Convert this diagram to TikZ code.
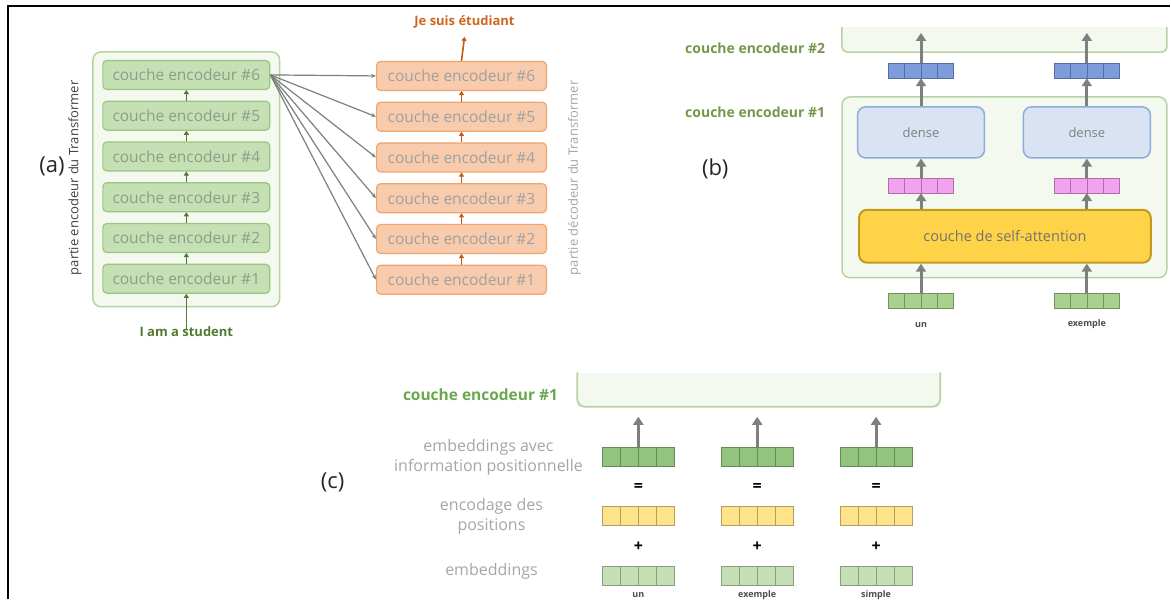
\documentclass[tikz,border=0pt]{standalone}
\usepackage{fontspec}
\setmainfont{Open Sans}
\usepackage{tikz}
\usetikzlibrary{calc,arrows.meta,positioning}
\definecolor{encfill}{HTML}{C5E0B4}
\definecolor{encdraw}{HTML}{9CC47E}
\definecolor{enctext}{HTML}{8E9E86}
\definecolor{outfill}{HTML}{F3F9EF}
\definecolor{outdraw}{HTML}{B7D3A3}
\definecolor{decfill}{HTML}{F8CBAD}
\definecolor{decdraw}{HTML}{F1A46C}
\definecolor{dectext}{HTML}{A0A0A0}
\definecolor{dgreen}{HTML}{507A2E}
\definecolor{dorange}{HTML}{C55A11}
\definecolor{outorange}{HTML}{CC671D}
\definecolor{arrowgray}{HTML}{7F7F7F}
\definecolor{lgray}{HTML}{A6A6A6}
\definecolor{bluevec}{HTML}{7C9CDC}
\definecolor{densefill}{HTML}{DAE3F3}
\definecolor{densedraw}{HTML}{8FAADC}
\definecolor{pinkvec}{HTML}{F2A2EE}
\definecolor{gold}{HTML}{FFD347}
\definecolor{golddraw}{HTML}{C39A1E}
\definecolor{greenvec}{HTML}{A9D18E}
\definecolor{topgreen}{HTML}{93C47D}
\definecolor{yellowvec}{HTML}{FFE38A}
\definecolor{labgreen}{HTML}{76974A}
\definecolor{cgreen}{HTML}{6AA84F}

\begin{document}
\begin{tikzpicture}[x=1pt,y=-1pt,>=Latex,
      box/.style={rounded corners=4pt,line width=1.2pt,minimum width=167pt,
                  minimum height=29pt,inner sep=0pt,font=\fontsize{15.5}{17}\selectfont},
      encbox/.style={box,fill=encfill,draw=encdraw,text=enctext},
      decbox/.style={box,fill=decfill,draw=decdraw,text=dectext,minimum width=170pt},
      frame/.style={rounded corners=8pt,line width=1.5pt,fill=outfill,draw=outdraw,inner sep=0pt},
      vec/.style={fill=#1,draw=#1!70!black,line width=0.6pt,inner sep=0pt,
                  minimum width=65pt,minimum height=15pt,
                  path picture={\foreach \k in {1,2,3}
                    \draw[#1!70!black,line width=0.6pt]
                      ($(path picture bounding box.south west)!\k/4!(path picture bounding box.south east)$)
                   -- ($(path picture bounding box.north west)!\k/4!(path picture bounding box.north east)$);}},
      bigvec/.style={vec=#1,minimum width=72pt,minimum height=19pt},
      flow/.style={draw=arrowgray,line width=3pt,-{Triangle[width=10pt,length=8pt]}},
      stackarrow/.style={line width=1.3pt,-{Triangle[width=5pt,length=4pt]}},
      tag/.style={font=\fontsize{22}{26}\selectfont,text=black!85},
      side/.style={rotate=90,font=\fontsize{13}{15}\selectfont},
      note/.style={font=\fontsize{16}{20}\selectfont,text=lgray,align=center},
      word/.style={font=\fontsize{9}{11}\selectfont\bfseries,text=black!70}]
    \fill[white] (0,0) rectangle (1171,600);
    \draw[line width=2.5pt] (8,600) -- (8,6) -- (1171,6);

    % (a)
    \node[tag] (taga) at (52,167) {(a)};
    \node[frame,minimum width=187pt,minimum height=255pt] (encstack) at (186.5,179.5) {};
    \node[side,text=black!75] (enclab) at (75,178) {partie encodeur du Transformer};
    \node[side,text=lgray] (declab) at (575,178) {partie décodeur du Transformer};
    \foreach \i in {1,...,6}{
      \node[encbox] (enc\i) at (186.5,{279-(\i-1)*40.8}) {couche encodeur \#\i};
      \node[decbox] (dec\i) at (462,{280-(\i-1)*40.8}) {couche encodeur \#\i};
    }
    \foreach \i/\j in {1/2,2/3,3/4,4/5,5/6}{
      \draw[stackarrow,dgreen] (enc\i.north) -- (enc\j.south);
      \draw[stackarrow,dorange] (dec\i.north) -- (dec\j.south);
    }
    \foreach \i in {1,...,6}
      \draw[draw=arrowgray,line width=1.2pt,-{Stealth[length=5pt,width=4pt]}] (enc6.east) -- (dec\i.west);
    \node[font=\fontsize{13}{15}\selectfont\bfseries,text=dgreen] (inp) at (186.5,332) {I am a student};
    \node[font=\fontsize{13}{15}\selectfont\bfseries,text=outorange] (outp) at (465,22) {Je suis étudiant};
    \draw[stackarrow,dgreen,line width=1.6pt] ([yshift=-6pt]inp.north) -- (enc1.south);
    \draw[stackarrow,dorange,line width=1.6pt] (dec6.north) -- ([yshift=-5pt]outp.south);

    % (b)
    \node[tag] (tagb) at (716,169) {(b)};
    \node[fill=outfill,inner sep=0pt,minimum width=325pt,minimum height=25pt] (enc2b) at (1005.5,39.5) {};
    \draw[outdraw,line width=1.5pt,rounded corners=6pt]
      (enc2b.north west) -- (enc2b.south west) -- (enc2b.south east) -- (enc2b.north east);
    \node[frame,minimum width=325pt,minimum height=181pt] (enc1b) at (1005.5,187.5) {};
    \node[font=\fontsize{14}{16}\selectfont\bfseries,text=labgreen] (l2b) at (756,48) {couche encodeur \#2};
    \node[font=\fontsize{14}{16}\selectfont\bfseries,text=labgreen] (l1b) at (756,112) {couche encodeur \#1};
    \node[rounded corners=8pt,fill=gold,draw=golddraw,line width=2pt,minimum width=292pt,
          minimum height=53pt,font=\fontsize{14.5}{17}\selectfont,text=black!55] (satt) at (1006,236.5)
      {couche de self-attention};
    \foreach \c/\x/\w in {1/922/un,2/1088/exemple}{
      \node[rounded corners=8pt,fill=densefill,draw=densedraw,line width=1.5pt,minimum width=127pt,
            minimum height=51pt,font=\fontsize{13}{15}\selectfont,text=black!50] (dense\c) at (\x,132.5) {dense};
      \node[vec=bluevec] (bv\c) at (\x,70.5) {};
      \node[vec=pinkvec] (pv\c) at (\x,185.5) {};
      \node[vec=greenvec] (gv\c) at (\x,301.5) {};
      \node[word] (w\c) at (\x,325) {\w};
      \coordinate (top\c) at (\x,33);
      \draw[flow] (gv\c.north) -- (gv\c |- satt.south);
      \draw[flow] (pv\c |- satt.north) -- (pv\c.south);
      \draw[flow] (pv\c.north) -- (dense\c.south);
      \draw[flow] (dense\c.north) -- (bv\c.south);
      \draw[flow] (bv\c.north) -- (top\c);
    }

    % (c)
    \node[tag] (tagc) at (333,483) {(c)};
    \node[fill=outfill,inner sep=0pt,minimum width=363pt,minimum height=34pt] (encc) at (759.5,390) {};
    \draw[outdraw,line width=1.8pt,rounded corners=8pt]
      (encc.north west) -- (encc.south west) -- (encc.south east) -- (encc.north east);
    \node[font=\fontsize{15.5}{18}\selectfont\bfseries,text=cgreen] (lc) at (481,395) {couche encodeur \#1};
    \node[note] (nwithpos) at (489,458) {embeddings avec\\information positionnelle};
    \node[note] (npos) at (492,517) {encodage des\\positions};
    \node[note] (nemb) at (492,572) {embeddings};
    \foreach \c/\x/\w in {1/639/un,2/758/exemple,3/877/simple}{
      \node[bigvec=topgreen] (tv\c) at (\x,457.5) {};
      \node[font=\fontsize{16}{18}\selectfont\bfseries] (eq\c) at (\x,488) {=};
      \node[bigvec=yellowvec] (yv\c) at (\x,516) {};
      \node[font=\fontsize{16}{18}\selectfont\bfseries] (pl\c) at (\x,547) {+};
      \node[bigvec=encfill] (ev\c) at (\x,576) {};
      \node[word] (cw\c) at (\x,596) {\w};
      \draw[flow] (tv\c.north) -- ([yshift=-10pt]encc.south -| tv\c);
    }
  \end{tikzpicture}
\end{document}
